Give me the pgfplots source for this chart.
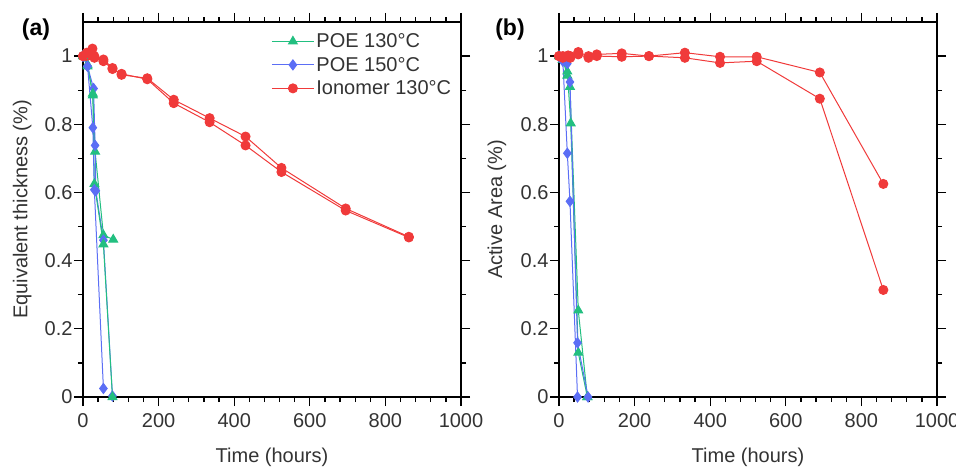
\documentclass[border=0pt]{standalone}
\usepackage{fontspec}
\setmainfont{Liberation Sans}
\usepackage{pgfplots}
\pgfplotsset{compat=1.18}
\definecolor{cgreen}{HTML}{22BF80}
\definecolor{cblue}{HTML}{5B6EF5}
\definecolor{cred}{HTML}{F03A3A}
\definecolor{ctxt}{HTML}{333333}
\pgfplotsset{
  myaxis/.style={
    scale only axis, width=378pt, height=375pt,
    xmin=0, xmax=1000, ymin=0, ymax=1.1,
    xtick={0,200,...,1000}, ytick={0,0.2,0.4,0.6,0.8,1},
    minor x tick num=4, minor y tick num=1,
    tick align=outside, major tick length=9pt, minor tick length=5pt,
    axis line style={line width=1.5pt}, every tick/.style={line width=1.3pt, black},
    /pgf/number format/assume math mode=true,
    /pgf/number format/1000 sep={},
    tick label style={font=\fontsize{20}{23}\selectfont, text=ctxt},
    xticklabel style={yshift=-4pt},
    yticklabel style={xshift=2pt},
    xlabel={Time (hours)},
    every axis x label/.style={at={(axis description cs:0.5,-0.16)}, anchor=center, font=\fontsize{20}{23}\selectfont, text=ctxt},
    clip=false,
  },
  g/.style={cgreen, line width=1pt, mark=triangle*, mark size=5pt, mark options={solid}},
  b/.style={cblue, line width=1pt, mark=diamond*, mark size=5pt, mark options={solid}},
  r/.style={cred, line width=1pt, mark=*, mark size=4.5pt, mark options={solid}},
}
\begin{document}
\begin{tikzpicture}
\useasboundingbox (0pt,0pt) rectangle (956pt,467pt);
\begin{axis}[myaxis, at={(83pt,70pt)}, anchor=south west,
  ylabel={Equivalent thickness (\%)},
  every axis y label/.style={at={(axis description cs:-0.161,0.5)}, rotate=90, anchor=center, font=\fontsize{20}{23}\selectfont, text=ctxt},
  legend style={draw=none, fill=none, at={(axis description cs:0.49,0.98)}, anchor=north west,
    font=\fontsize{20}{23}\selectfont, text=ctxt, row sep=4pt},
  legend cell align=left,
  legend image code/.code={\draw[mark repeat=2,mark phase=2,#1] plot coordinates {(0pt,0pt) (21pt,0pt) (42pt,0pt)};},
]
\addplot[g] coordinates {(0,1.0) (12,0.975) (26,0.885) (32,0.72) (54,0.475) (80,0.462)};
\addlegendentry{POE 130°C}
\addplot[b] coordinates {(0,1.0) (12,0.97) (28,0.905) (32,0.738) (34,0.605) (54,0.46) (78,0.003)};
\addlegendentry{POE 150°C}
\addplot[r] coordinates {(0,1.0) (10,1.0) (25,1.022) (30,1.0) (54,0.99) (78,0.965) (102,0.945) (170,0.935) (240,0.872) (335,0.818) (430,0.764) (525,0.672) (695,0.553) (862,0.47)};
\addlegendentry{Ionomer 130°C}
\addplot[g, forget plot] coordinates {(0,1.0) (12,0.97) (26,0.89) (30,0.625) (54,0.448) (78,0.0)};
\addplot[b, forget plot] coordinates {(0,1.0) (12,0.97) (26,0.79) (30,0.608) (54,0.025)};
\addplot[r, forget plot] coordinates {(0,1.0) (10,1.01) (25,1.005) (30,0.995) (54,0.985) (78,0.962) (102,0.948) (170,0.932) (240,0.862) (335,0.806) (430,0.738) (525,0.66) (695,0.547) (862,0.468)};
\end{axis}
\begin{axis}[myaxis, at={(559pt,70pt)}, anchor=south west,
  ylabel={Active Area (\%)},
  every axis y label/.style={at={(axis description cs:-0.164,0.5)}, rotate=90, anchor=center, font=\fontsize{20}{23}\selectfont, text=ctxt},
]
\addplot[g] coordinates {(0,1.0) (10,0.99) (22,0.943) (29,0.91) (51,0.254) (75,0.0)};
\addplot[g] coordinates {(0,1.0) (10,0.99) (22,0.955) (31,0.803) (51,0.13) (75,0.0)};
\addplot[b] coordinates {(0,1.0) (10,0.99) (22,0.715) (29,0.574) (49,0.0)};
\addplot[b] coordinates {(0,1.0) (10,0.985) (22,0.978) (29,0.924) (49,0.159) (77,0.0)};
\addplot[r] coordinates {(0,1.0) (10,1.0) (24,1.0) (30,1.0) (51,1.012) (78,1.0) (100,1.005) (166,1.008) (238,1.0) (333,1.01) (426,0.998) (523,0.998) (690,0.952) (858,0.625)};
\addplot[r] coordinates {(0,1.0) (10,0.995) (24,1.002) (30,0.995) (51,1.005) (78,0.995) (100,1.0) (166,0.998) (238,1.0) (333,0.995) (426,0.98) (523,0.985) (690,0.875) (858,0.314)};
\end{axis}
\node[font=\bfseries\fontsize{23}{26}\selectfont] at (36pt,437pt) {(a)};
\node[font=\bfseries\fontsize{23}{26}\selectfont] at (510pt,437pt) {(b)};
\end{tikzpicture}
\end{document}
